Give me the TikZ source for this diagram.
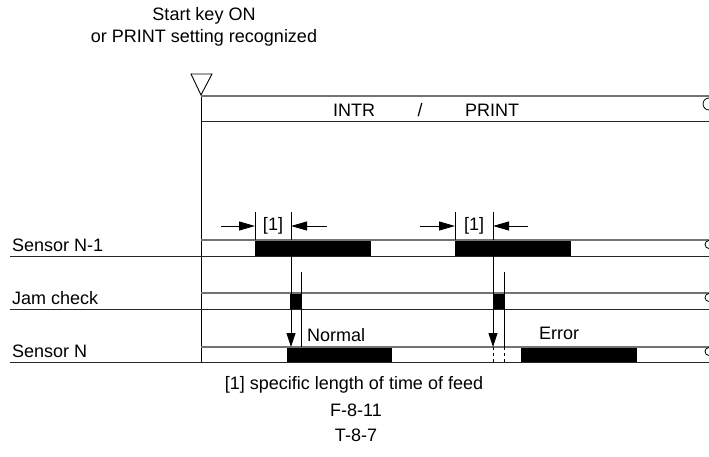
\documentclass[tikz,border=0pt]{standalone}
\usepackage{fontspec}
\setmainfont{Liberation Sans}
\usetikzlibrary{arrows.meta}
\begin{document}
\begin{tikzpicture}[x=1pt,y=-1pt,
  txt/.style={font=\fontsize{18}{21}\selectfont, inner sep=0pt},
  topline/.style={draw=black!55, line width=1.3pt},
  botline/.style={draw=black!85, line width=1pt},
  blk/.style={fill=black, draw=none},
  thin/.style={draw=black, line width=0.9pt},
  harrow/.style={thin, -{Triangle[length=16pt,width=9pt]}},
  varrow/.style={thin, -{Triangle[length=14pt,width=9pt]}},
  endarc/.style={draw=black, line width=0.8pt}]
\useasboundingbox (0,0) rectangle (709,457);
% header text
\node[txt] (t1) at (204,16) {Start key ON};
\node[txt] (t2) at (204,38) {or PRINT setting recognized};
% start marker
\coordinate (apex) at (201,95);
\coordinate (vbot) at (201,362);
\draw[thin] (191,74) -- (212,74) -- (apex) -- cycle;
\draw[thin] (apex) -- (vbot);
% INTR band
\draw[topline] (201,96) -- (709,96);
\draw[botline] (201,122) -- (709,122);
\draw[endarc] (709,98) arc[start angle=270,end angle=90,radius=6];
\node[txt] (intr) at (354,110) {INTR};
\node[txt] (slash) at (420,110) {/};
\node[txt] (print) at (492,110) {PRINT};
% Sensor N-1 band
\fill[blk] (255,240) rectangle (371,256);
\fill[blk] (455,240) rectangle (571,256);
\draw[topline] (201,240) -- (709,240);
\draw[botline] (10,256) -- (709,256);
\draw[endarc] (709,240.5) arc[start angle=270,end angle=90,radius=4];
\node[txt, anchor=base west] (ln1) at (12,251) {Sensor N-1};
% Jam check band
\fill[blk] (290,293) rectangle (301,309);
\fill[blk] (493,293) rectangle (504,309);
\draw[topline] (201,293) -- (709,293);
\draw[botline] (10,309) -- (709,309);
\draw[endarc] (709,293.5) arc[start angle=270,end angle=90,radius=4];
\node[txt, anchor=base west] (ln2) at (12,304) {Jam check};
% Sensor N band
\fill[blk] (287,347) rectangle (392,362);
\fill[blk] (521,347) rectangle (637,362);
\draw[topline] (201,347) -- (709,347);
\draw[botline] (10,362) -- (709,362);
\draw[endarc] (709,347.5) arc[start angle=270,end angle=90,radius=4];
\node[txt, anchor=base west] (ln3) at (12,357) {Sensor N};
% dimension [1], first
\draw[thin] (255,212) -- (255,240);
\draw[thin] (291,212) -- (291,240);
\coordinate (a1s) at (221,226); \coordinate (a1e) at (255,226);
\coordinate (a2s) at (327,226); \coordinate (a2e) at (291,226);
\draw[harrow] (a1s) -- (a1e);
\draw[harrow] (a2s) -- (a2e);
\node[txt] (d1) at (273,226) {[1]};
% dimension [1], second
\draw[thin] (455,212) -- (455,240);
\draw[thin] (493,212) -- (493,240);
\coordinate (b1s) at (420,226); \coordinate (b1e) at (455,226);
\coordinate (b2s) at (528,226); \coordinate (b2e) at (493,226);
\draw[harrow] (b1s) -- (b1e);
\draw[harrow] (b2s) -- (b2e);
\node[txt] (d2) at (474,226) {[1]};
% normal case
\coordinate (n1s) at (291,256); \coordinate (n1e) at (291,347);
\draw[varrow] (n1s) -- (n1e);
\coordinate (n2s) at (301,272); \coordinate (n2e) at (301,347);
\draw[thin] (n2s) -- (n2e);
\node[txt, anchor=base west] (normal) at (307,341) {Normal};
% error case
\coordinate (e1s) at (493,256); \coordinate (e1e) at (493,347); \coordinate (e1d) at (493,362);
\draw[varrow] (e1s) -- (e1e);
\draw[thin, dash pattern=on 3pt off 3pt] (e1e) -- (e1d);
\coordinate (e2s) at (504,272); \coordinate (e2e) at (504,347); \coordinate (e2d) at (504,362);
\draw[thin] (e2s) -- (e2e);
\draw[thin, dash pattern=on 3pt off 3pt] (e2e) -- (e2d);
\node[txt, anchor=base west] (error) at (539,339) {Error};
% footer
\node[txt] (f1) at (354,385) {[1] specific length of time of feed};
\node[txt] (f2) at (356,410) {F-8-11};
\node[txt] (f3) at (356,435) {T-8-7};
\end{tikzpicture}
\end{document}
